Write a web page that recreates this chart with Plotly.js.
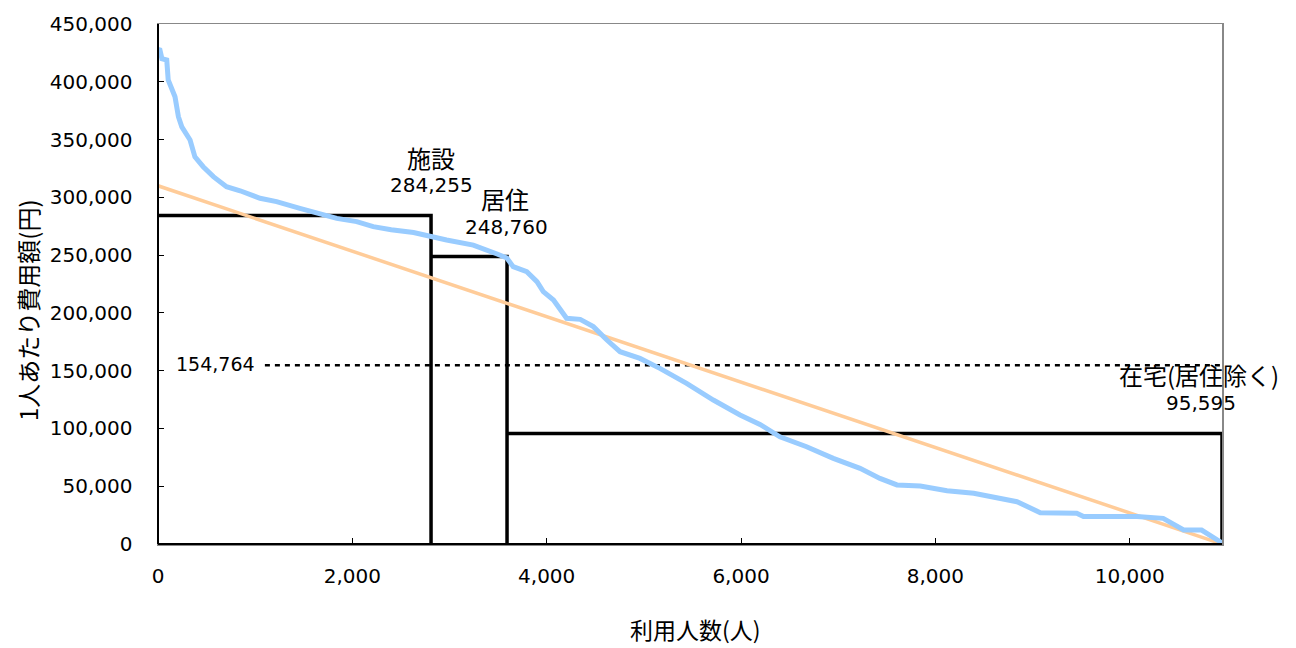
<!DOCTYPE html>
<html>
<head>
<meta charset="utf-8">
<script src="https://cdn.plot.ly/plotly-3.0.1.min.js"></script>
<style>html,body{margin:0;padding:0;background:#fff;}#chart{width:1296px;height:648px;}</style>
</head>
<body>
<div id="chart"></div>
<script>
// ---- data ----
var curveX = [0, 20, 40, 90, 105, 175, 210, 245, 330, 380, 465, 570, 705, 845, 1050, 1220, 1460, 1670, 1840, 2045, 2215, 2400, 2630, 2970, 3245, 3490, 3590, 3655, 3795, 3900, 3965, 4070, 4205, 4345, 4480, 4620, 4755, 4960, 5165, 5440, 5715, 5990, 6195, 6400, 6675, 6950, 7225, 7430, 7605, 7845, 8120, 8395, 8635, 8840, 9080, 9455, 9525, 10075, 10345, 10555, 10740, 10950];
var curveY = [428000, 427500, 420000, 418800, 401500, 387000, 369800, 361000, 349600, 335000, 326500, 317900, 309200, 305700, 299200, 296300, 290500, 286200, 281800, 279000, 274600, 272000, 269500, 263100, 258700, 251000, 247500, 240000, 235700, 227000, 218400, 211200, 195300, 194400, 188100, 176500, 166400, 160600, 152000, 139000, 124600, 111600, 103500, 92800, 84200, 74100, 65500, 56800, 51100, 50200, 46100, 43900, 39500, 36600, 27100, 26600, 23700, 23700, 22200, 12100, 12100, 1000];
var trendX = [0, 10950];
var trendY = [310000, 0];

var groupNames = ['施設', '居住', '在宅(居住除く)'];
var groupEnds = [2810, 3592, 10950];      // cumulative number of users
var groupValues = [284255, 248760, 95595]; // cost per person (yen)
var averageValue = 154764;
var averageLabel = '154,764';
var averageStartX = 1100;

var xTitle = '利用人数(人)';
var yTitle = '1人あたり費用額(円)';

// ---- build traces ----
var traces = [];
var start = 0;
for (var i = 0; i < groupNames.length; i++) {
  var x0 = start, x1 = groupEnds[i], v = groupValues[i];
  traces.push({
    x: [x0, x1, x1], y: [v, v, 0],
    mode: 'lines', type: 'scatter', hoverinfo: 'skip', showlegend: false,
    line: {color: '#000000', width: 3.5}
  });
  start = x1;
}
traces.push({
  x: [averageStartX, groupEnds[groupEnds.length - 1]], y: [averageValue, averageValue],
  mode: 'lines', type: 'scatter', showlegend: false,
  line: {color: '#000000', width: 2.5, dash: '5px,5px'}
});
traces.push({
  x: trendX, y: trendY, mode: 'lines', type: 'scatter', showlegend: false,
  line: {color: '#FFCC99', width: 3.5}
});
traces.push({
  x: curveX, y: curveY, mode: 'lines', type: 'scatter', showlegend: false,
  line: {color: '#99CCFF', width: 5}
});

var numFont = {family: 'DejaVu Sans', size: 20, color: '#000'};
var jpFont = {family: 'Noto Sans CJK JP', size: 24, color: '#000'};
var xTitleFont = {family: 'Noto Sans CJK JP', size: 23, color: '#000'};

function fmt(v) { return v.toLocaleString('en-US'); }

var annotations = [
  // 施設
  {x: groupEnds[0], y: groupValues[0], xref: 'x', yref: 'y', text: groupNames[0], showarrow: false, font: jpFont, yanchor: 'middle', yshift: 58, xshift: 0},
  {x: groupEnds[0], y: groupValues[0], xref: 'x', yref: 'y', text: fmt(groupValues[0]), showarrow: false, font: numFont, yanchor: 'middle', yshift: 31, xshift: 0},
  // 居住
  {x: groupEnds[1], y: groupValues[1], xref: 'x', yref: 'y', text: groupNames[1], showarrow: false, font: jpFont, yanchor: 'middle', yshift: 58, xshift: -2},
  {x: groupEnds[1], y: groupValues[1], xref: 'x', yref: 'y', text: fmt(groupValues[1]), showarrow: false, font: numFont, yanchor: 'middle', yshift: 30, xshift: -1},
  // 在宅
  {x: groupEnds[2], y: groupValues[2], xref: 'x', yref: 'y', text: groupNames[2], showarrow: false, font: jpFont, yanchor: 'middle', yshift: 59, xshift: -23},
  {x: groupEnds[2], y: groupValues[2], xref: 'x', yref: 'y', text: fmt(groupValues[2]), showarrow: false, font: numFont, yanchor: 'middle', yshift: 31, xshift: -21},
  // average
  {x: 0, y: averageValue, xref: 'x', yref: 'y', text: averageLabel, showarrow: false, font: {family: 'DejaVu Sans', size: 19, color: '#000'}, xanchor: 'center', yanchor: 'middle', xshift: 57, yshift: 1},
  // y axis title
  {x: -0.1231, y: 0.45, xref: 'paper', yref: 'paper', text: yTitle, textangle: -90, showarrow: false, font: jpFont, xanchor: 'center', yanchor: 'middle'},
  // x axis title
  {x: 0.505, y: -0.163, xref: 'paper', yref: 'paper', text: xTitle, showarrow: false, font: xTitleFont, xanchor: 'center', yanchor: 'middle'}
];

var layout = {
  width: 1296, height: 648,
  margin: {l: 158, r: 74, t: 24, b: 104, pad: 0},
  paper_bgcolor: '#fff', plot_bgcolor: '#fff',
  showlegend: false,
  xaxis: {
    range: [0, 10950], dtick: 2000, tickformat: ',d',
    showgrid: false, zeroline: false,
    showline: true, linecolor: '#888', linewidth: 1.5, mirror: true,
    ticks: 'inside', ticklen: 6, tickcolor: '#000', tickwidth: 1,
    tickfont: numFont, ticklabelstandoff: 13
  },
  yaxis: {
    range: [0, 450000], dtick: 50000, tickformat: ',d',
    showgrid: false, zeroline: false,
    showline: true, linecolor: '#888', linewidth: 1.5, mirror: true,
    ticks: 'inside', ticklen: 6, tickcolor: '#000', tickwidth: 1,
    tickfont: numFont, ticklabelstandoff: 20
  },
  shapes: [
    {type: 'line', xref: 'paper', yref: 'paper', x0: 0, x1: 0, y0: 0, y1: 1, line: {color: '#000', width: 2}},
    {type: 'line', xref: 'paper', yref: 'paper', x0: 0, x1: 1, y0: 0, y1: 0, line: {color: '#000', width: 2}}
  ],
  annotations: annotations
};

Plotly.newPlot('chart', traces, layout, {displayModeBar: false, staticPlot: true});
</script>
</body>
</html>
